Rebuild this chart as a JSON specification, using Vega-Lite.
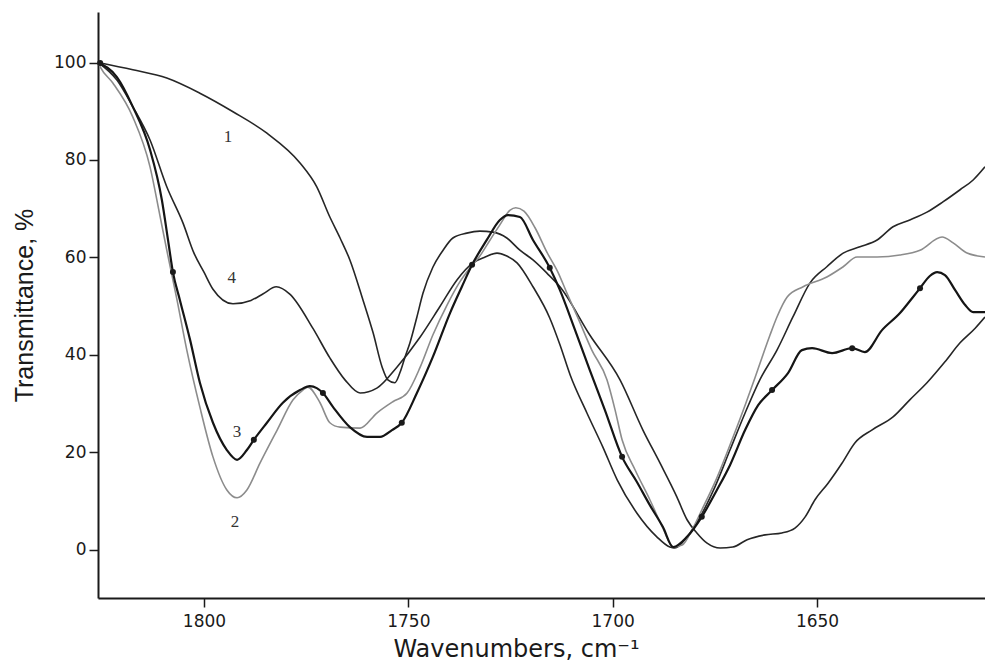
{
  "$schema": "https://vega.github.io/schema/vega-lite/v6.json",
  "width": 887,
  "height": 586,
  "autosize": {"type": "none"},
  "padding": {"left": 98, "top": 12, "right": 0, "bottom": 66},
  "background": "white",
  "config": {
    "view": {"stroke": null},
    "axis": {
      "grid": false,
      "domainColor": "#1a1a1a",
      "domainWidth": 2,
      "tickColor": "#1a1a1a",
      "tickWidth": 1.5,
      "tickSize": 9,
      "labelFont": "DejaVu Sans",
      "labelFontSize": 17,
      "labelColor": "#1a1a1a",
      "titleColor": "#1a1a1a",
      "titleFontWeight": "normal"
    }
  },
  "datasets": {
    "spectra": [
      {"curve": "1", "wavenumber": 1825.9, "transmittance": 100},
      {"curve": "1", "wavenumber": 1817.4, "transmittance": 98.5},
      {"curve": "1", "wavenumber": 1809.1, "transmittance": 96.8},
      {"curve": "1", "wavenumber": 1801.0, "transmittance": 93.7},
      {"curve": "1", "wavenumber": 1792.9, "transmittance": 89.9},
      {"curve": "1", "wavenumber": 1784.6, "transmittance": 85.5},
      {"curve": "1", "wavenumber": 1776.5, "transmittance": 79.4},
      {"curve": "1", "wavenumber": 1772.4, "transmittance": 74.5},
      {"curve": "1", "wavenumber": 1769.2, "transmittance": 68.3},
      {"curve": "1", "wavenumber": 1766.7, "transmittance": 64.0},
      {"curve": "1", "wavenumber": 1764.3, "transmittance": 59.5},
      {"curve": "1", "wavenumber": 1761.1, "transmittance": 51.3},
      {"curve": "1", "wavenumber": 1758.6, "transmittance": 44.5},
      {"curve": "1", "wavenumber": 1756.4, "transmittance": 37.5},
      {"curve": "1", "wavenumber": 1755.0, "transmittance": 34.9},
      {"curve": "1", "wavenumber": 1753.3, "transmittance": 34.3},
      {"curve": "1", "wavenumber": 1752.0, "transmittance": 36.5},
      {"curve": "1", "wavenumber": 1750.8, "transmittance": 39.6},
      {"curve": "1", "wavenumber": 1749.6, "transmittance": 42.5},
      {"curve": "1", "wavenumber": 1747.9, "transmittance": 47.8},
      {"curve": "1", "wavenumber": 1746.4, "transmittance": 52.7},
      {"curve": "1", "wavenumber": 1744.0, "transmittance": 58.0},
      {"curve": "1", "wavenumber": 1741.5, "transmittance": 61.5},
      {"curve": "1", "wavenumber": 1739.1, "transmittance": 64.0},
      {"curve": "1", "wavenumber": 1735.7, "transmittance": 65.0},
      {"curve": "1", "wavenumber": 1732.5, "transmittance": 65.4},
      {"curve": "1", "wavenumber": 1729.3, "transmittance": 65.2},
      {"curve": "1", "wavenumber": 1725.9, "transmittance": 64.0},
      {"curve": "1", "wavenumber": 1722.7, "transmittance": 61.5},
      {"curve": "1", "wavenumber": 1719.5, "transmittance": 59.5},
      {"curve": "1", "wavenumber": 1716.1, "transmittance": 56.8},
      {"curve": "1", "wavenumber": 1712.9, "transmittance": 54.0},
      {"curve": "1", "wavenumber": 1705.6, "transmittance": 44.1},
      {"curve": "1", "wavenumber": 1698.2, "transmittance": 34.9},
      {"curve": "1", "wavenumber": 1692.6, "transmittance": 24.6},
      {"curve": "1", "wavenumber": 1688.4, "transmittance": 17.8},
      {"curve": "1", "wavenumber": 1684.3, "transmittance": 10.9},
      {"curve": "1", "wavenumber": 1681.8, "transmittance": 6.2},
      {"curve": "1", "wavenumber": 1679.4, "transmittance": 3.5},
      {"curve": "1", "wavenumber": 1676.9, "transmittance": 1.4},
      {"curve": "1", "wavenumber": 1673.7, "transmittance": 0.4},
      {"curve": "1", "wavenumber": 1670.6, "transmittance": 0.6},
      {"curve": "1", "wavenumber": 1667.1, "transmittance": 2.1},
      {"curve": "1", "wavenumber": 1662.7, "transmittance": 3.1},
      {"curve": "1", "wavenumber": 1658.6, "transmittance": 3.5},
      {"curve": "1", "wavenumber": 1655.4, "transmittance": 4.5},
      {"curve": "1", "wavenumber": 1652.9, "transmittance": 6.8},
      {"curve": "1", "wavenumber": 1650.5, "transmittance": 10.3},
      {"curve": "1", "wavenumber": 1647.3, "transmittance": 13.7},
      {"curve": "1", "wavenumber": 1643.9, "transmittance": 17.8},
      {"curve": "1", "wavenumber": 1640.7, "transmittance": 22.0},
      {"curve": "1", "wavenumber": 1636.6, "transmittance": 24.6},
      {"curve": "1", "wavenumber": 1631.4, "transmittance": 27.3},
      {"curve": "1", "wavenumber": 1627.3, "transmittance": 30.8},
      {"curve": "1", "wavenumber": 1623.1, "transmittance": 34.3},
      {"curve": "1", "wavenumber": 1618.7, "transmittance": 38.6},
      {"curve": "1", "wavenumber": 1615.0, "transmittance": 42.5},
      {"curve": "1", "wavenumber": 1611.3, "transmittance": 45.5},
      {"curve": "1", "wavenumber": 1608.9, "transmittance": 47.8},

      {"curve": "2", "wavenumber": 1825.9, "transmittance": 100},
      {"curve": "2", "wavenumber": 1825.4, "transmittance": 99.1},
      {"curve": "2", "wavenumber": 1822.3, "transmittance": 95.8},
      {"curve": "2", "wavenumber": 1817.4, "transmittance": 88.8},
      {"curve": "2", "wavenumber": 1813.2, "transmittance": 78.6},
      {"curve": "2", "wavenumber": 1810.8, "transmittance": 68.7},
      {"curve": "2", "wavenumber": 1809.1, "transmittance": 61.5},
      {"curve": "2", "wavenumber": 1806.6, "transmittance": 51.3},
      {"curve": "2", "wavenumber": 1804.2, "transmittance": 41.0},
      {"curve": "2", "wavenumber": 1801.0, "transmittance": 29.3},
      {"curve": "2", "wavenumber": 1797.8, "transmittance": 19.1},
      {"curve": "2", "wavenumber": 1794.4, "transmittance": 12.3},
      {"curve": "2", "wavenumber": 1791.9, "transmittance": 10.7},
      {"curve": "2", "wavenumber": 1789.5, "transmittance": 12.3},
      {"curve": "2", "wavenumber": 1786.3, "transmittance": 17.8},
      {"curve": "2", "wavenumber": 1782.1, "transmittance": 24.6},
      {"curve": "2", "wavenumber": 1778.2, "transmittance": 30.8},
      {"curve": "2", "wavenumber": 1775.8, "transmittance": 32.8},
      {"curve": "2", "wavenumber": 1774.6, "transmittance": 33.4},
      {"curve": "2", "wavenumber": 1771.6, "transmittance": 30.2},
      {"curve": "2", "wavenumber": 1769.2, "transmittance": 26.1},
      {"curve": "2", "wavenumber": 1766.7, "transmittance": 25.2},
      {"curve": "2", "wavenumber": 1761.8, "transmittance": 25.0},
      {"curve": "2", "wavenumber": 1757.7, "transmittance": 28.1},
      {"curve": "2", "wavenumber": 1753.8, "transmittance": 30.4},
      {"curve": "2", "wavenumber": 1750.3, "transmittance": 32.2},
      {"curve": "2", "wavenumber": 1747.1, "transmittance": 37.5},
      {"curve": "2", "wavenumber": 1744.0, "transmittance": 44.1},
      {"curve": "2", "wavenumber": 1740.5, "transmittance": 50.3},
      {"curve": "2", "wavenumber": 1737.4, "transmittance": 55.0},
      {"curve": "2", "wavenumber": 1734.9, "transmittance": 57.9},
      {"curve": "2", "wavenumber": 1732.5, "transmittance": 60.3},
      {"curve": "2", "wavenumber": 1730.0, "transmittance": 63.6},
      {"curve": "2", "wavenumber": 1727.6, "transmittance": 66.7},
      {"curve": "2", "wavenumber": 1725.1, "transmittance": 69.7},
      {"curve": "2", "wavenumber": 1723.7, "transmittance": 70.2},
      {"curve": "2", "wavenumber": 1721.7, "transmittance": 69.5},
      {"curve": "2", "wavenumber": 1719.0, "transmittance": 66.1},
      {"curve": "2", "wavenumber": 1716.1, "transmittance": 61.1},
      {"curve": "2", "wavenumber": 1713.4, "transmittance": 57.0},
      {"curve": "2", "wavenumber": 1711.2, "transmittance": 52.7},
      {"curve": "2", "wavenumber": 1708.5, "transmittance": 47.6},
      {"curve": "2", "wavenumber": 1705.1, "transmittance": 41.0},
      {"curve": "2", "wavenumber": 1701.4, "transmittance": 34.9},
      {"curve": "2", "wavenumber": 1699.4, "transmittance": 28.7},
      {"curve": "2", "wavenumber": 1697.7, "transmittance": 22.6},
      {"curve": "2", "wavenumber": 1694.5, "transmittance": 16.4},
      {"curve": "2", "wavenumber": 1690.9, "transmittance": 10.3},
      {"curve": "2", "wavenumber": 1687.7, "transmittance": 4.5},
      {"curve": "2", "wavenumber": 1685.2, "transmittance": 0.6},
      {"curve": "2", "wavenumber": 1683.0, "transmittance": 1.0},
      {"curve": "2", "wavenumber": 1680.6, "transmittance": 4.1},
      {"curve": "2", "wavenumber": 1678.2, "transmittance": 8.2},
      {"curve": "2", "wavenumber": 1674.5, "transmittance": 14.8},
      {"curve": "2", "wavenumber": 1670.8, "transmittance": 22.6},
      {"curve": "2", "wavenumber": 1667.6, "transmittance": 29.7},
      {"curve": "2", "wavenumber": 1665.2, "transmittance": 35.3},
      {"curve": "2", "wavenumber": 1663.5, "transmittance": 39.4},
      {"curve": "2", "wavenumber": 1661.5, "transmittance": 44.1},
      {"curve": "2", "wavenumber": 1659.8, "transmittance": 47.8},
      {"curve": "2", "wavenumber": 1657.3, "transmittance": 51.9},
      {"curve": "2", "wavenumber": 1653.4, "transmittance": 54.0},
      {"curve": "2", "wavenumber": 1647.6, "transmittance": 56.0},
      {"curve": "2", "wavenumber": 1643.6, "transmittance": 58.1},
      {"curve": "2", "wavenumber": 1640.2, "transmittance": 60.1},
      {"curve": "2", "wavenumber": 1635.3, "transmittance": 60.1},
      {"curve": "2", "wavenumber": 1629.7, "transmittance": 60.5},
      {"curve": "2", "wavenumber": 1624.8, "transmittance": 61.5},
      {"curve": "2", "wavenumber": 1619.4, "transmittance": 64.2},
      {"curve": "2", "wavenumber": 1616.7, "transmittance": 63.0},
      {"curve": "2", "wavenumber": 1613.3, "transmittance": 60.9},
      {"curve": "2", "wavenumber": 1608.9, "transmittance": 60.1},

      {"curve": "3", "wavenumber": 1825.9, "transmittance": 100},
      {"curve": "3", "wavenumber": 1821.3, "transmittance": 97.0},
      {"curve": "3", "wavenumber": 1817.4, "transmittance": 90.9},
      {"curve": "3", "wavenumber": 1813.2, "transmittance": 82.1},
      {"curve": "3", "wavenumber": 1810.3, "transmittance": 71.8},
      {"curve": "3", "wavenumber": 1808.8, "transmittance": 63.6},
      {"curve": "3", "wavenumber": 1807.6, "transmittance": 57.0},
      {"curve": "3", "wavenumber": 1805.9, "transmittance": 51.3},
      {"curve": "3", "wavenumber": 1803.4, "transmittance": 43.1},
      {"curve": "3", "wavenumber": 1801.0, "transmittance": 34.3},
      {"curve": "3", "wavenumber": 1797.8, "transmittance": 26.1},
      {"curve": "3", "wavenumber": 1794.4, "transmittance": 20.5},
      {"curve": "3", "wavenumber": 1791.9, "transmittance": 18.5},
      {"curve": "3", "wavenumber": 1789.5, "transmittance": 20.5},
      {"curve": "3", "wavenumber": 1787.8, "transmittance": 22.6},
      {"curve": "3", "wavenumber": 1784.6, "transmittance": 26.1},
      {"curve": "3", "wavenumber": 1780.7, "transmittance": 30.2},
      {"curve": "3", "wavenumber": 1776.5, "transmittance": 32.8},
      {"curve": "3", "wavenumber": 1774.1, "transmittance": 33.6},
      {"curve": "3", "wavenumber": 1772.4, "transmittance": 33.2},
      {"curve": "3", "wavenumber": 1770.9, "transmittance": 32.2},
      {"curve": "3", "wavenumber": 1768.4, "transmittance": 29.3},
      {"curve": "3", "wavenumber": 1764.3, "transmittance": 25.2},
      {"curve": "3", "wavenumber": 1760.1, "transmittance": 23.2},
      {"curve": "3", "wavenumber": 1756.9, "transmittance": 23.2},
      {"curve": "3", "wavenumber": 1754.0, "transmittance": 24.6},
      {"curve": "3", "wavenumber": 1751.6, "transmittance": 26.1},
      {"curve": "3", "wavenumber": 1747.9, "transmittance": 32.2},
      {"curve": "3", "wavenumber": 1744.0, "transmittance": 39.6},
      {"curve": "3", "wavenumber": 1739.8, "transmittance": 48.6},
      {"curve": "3", "wavenumber": 1736.9, "transmittance": 54.0},
      {"curve": "3", "wavenumber": 1734.4, "transmittance": 58.5},
      {"curve": "3", "wavenumber": 1730.8, "transmittance": 63.6},
      {"curve": "3", "wavenumber": 1727.6, "transmittance": 67.7},
      {"curve": "3", "wavenumber": 1725.6, "transmittance": 68.7},
      {"curve": "3", "wavenumber": 1722.7, "transmittance": 68.3},
      {"curve": "3", "wavenumber": 1719.5, "transmittance": 63.6},
      {"curve": "3", "wavenumber": 1715.4, "transmittance": 57.9},
      {"curve": "3", "wavenumber": 1712.9, "transmittance": 53.3},
      {"curve": "3", "wavenumber": 1709.2, "transmittance": 45.1},
      {"curve": "3", "wavenumber": 1705.6, "transmittance": 36.9},
      {"curve": "3", "wavenumber": 1701.9, "transmittance": 28.7},
      {"curve": "3", "wavenumber": 1697.7, "transmittance": 19.1},
      {"curve": "3", "wavenumber": 1694.1, "transmittance": 14.0},
      {"curve": "3", "wavenumber": 1690.9, "transmittance": 9.2},
      {"curve": "3", "wavenumber": 1687.7, "transmittance": 4.7},
      {"curve": "3", "wavenumber": 1685.2, "transmittance": 0.6},
      {"curve": "3", "wavenumber": 1681.8, "transmittance": 2.7},
      {"curve": "3", "wavenumber": 1678.2, "transmittance": 6.8},
      {"curve": "3", "wavenumber": 1674.5, "transmittance": 12.3},
      {"curve": "3", "wavenumber": 1671.3, "transmittance": 17.4},
      {"curve": "3", "wavenumber": 1667.6, "transmittance": 24.6},
      {"curve": "3", "wavenumber": 1664.4, "transmittance": 29.7},
      {"curve": "3", "wavenumber": 1661.0, "transmittance": 32.8},
      {"curve": "3", "wavenumber": 1657.1, "transmittance": 36.3},
      {"curve": "3", "wavenumber": 1653.7, "transmittance": 41.0},
      {"curve": "3", "wavenumber": 1651.2, "transmittance": 41.4},
      {"curve": "3", "wavenumber": 1646.3, "transmittance": 40.4},
      {"curve": "3", "wavenumber": 1641.4, "transmittance": 41.4},
      {"curve": "3", "wavenumber": 1638.3, "transmittance": 40.6},
      {"curve": "3", "wavenumber": 1634.1, "transmittance": 45.1},
      {"curve": "3", "wavenumber": 1629.7, "transmittance": 48.6},
      {"curve": "3", "wavenumber": 1626.5, "transmittance": 51.9},
      {"curve": "3", "wavenumber": 1624.8, "transmittance": 53.7},
      {"curve": "3", "wavenumber": 1622.4, "transmittance": 56.2},
      {"curve": "3", "wavenumber": 1620.6, "transmittance": 57.0},
      {"curve": "3", "wavenumber": 1618.7, "transmittance": 56.4},
      {"curve": "3", "wavenumber": 1616.2, "transmittance": 53.3},
      {"curve": "3", "wavenumber": 1613.8, "transmittance": 50.3},
      {"curve": "3", "wavenumber": 1611.8, "transmittance": 48.8},
      {"curve": "3", "wavenumber": 1608.9, "transmittance": 48.8},

      {"curve": "4", "wavenumber": 1825.9, "transmittance": 100},
      {"curve": "4", "wavenumber": 1821.3, "transmittance": 96.4},
      {"curve": "4", "wavenumber": 1817.4, "transmittance": 90.9},
      {"curve": "4", "wavenumber": 1813.2, "transmittance": 84.1},
      {"curve": "4", "wavenumber": 1809.1, "transmittance": 74.5},
      {"curve": "4", "wavenumber": 1805.1, "transmittance": 67.0},
      {"curve": "4", "wavenumber": 1802.5, "transmittance": 61.0},
      {"curve": "4", "wavenumber": 1800.0, "transmittance": 57.0},
      {"curve": "4", "wavenumber": 1797.8, "transmittance": 53.5},
      {"curve": "4", "wavenumber": 1792.9, "transmittance": 50.5},
      {"curve": "4", "wavenumber": 1788.5, "transmittance": 51.2},
      {"curve": "4", "wavenumber": 1785.6, "transmittance": 52.5},
      {"curve": "4", "wavenumber": 1782.3, "transmittance": 54.0},
      {"curve": "4", "wavenumber": 1779.0, "transmittance": 52.5},
      {"curve": "4", "wavenumber": 1773.3, "transmittance": 45.4},
      {"curve": "4", "wavenumber": 1769.2, "transmittance": 39.4},
      {"curve": "4", "wavenumber": 1765.5, "transmittance": 34.9},
      {"curve": "4", "wavenumber": 1761.8, "transmittance": 32.2},
      {"curve": "4", "wavenumber": 1757.7, "transmittance": 33.2},
      {"curve": "4", "wavenumber": 1752.8, "transmittance": 37.5},
      {"curve": "4", "wavenumber": 1747.1, "transmittance": 43.7},
      {"curve": "4", "wavenumber": 1742.3, "transmittance": 49.9},
      {"curve": "4", "wavenumber": 1738.1, "transmittance": 55.4},
      {"curve": "4", "wavenumber": 1734.2, "transmittance": 58.9},
      {"curve": "4", "wavenumber": 1731.2, "transmittance": 60.1},
      {"curve": "4", "wavenumber": 1728.3, "transmittance": 60.9},
      {"curve": "4", "wavenumber": 1725.9, "transmittance": 60.3},
      {"curve": "4", "wavenumber": 1723.4, "transmittance": 58.9},
      {"curve": "4", "wavenumber": 1719.5, "transmittance": 54.0},
      {"curve": "4", "wavenumber": 1715.4, "transmittance": 47.6},
      {"curve": "4", "wavenumber": 1712.9, "transmittance": 42.1},
      {"curve": "4", "wavenumber": 1710.4, "transmittance": 35.9},
      {"curve": "4", "wavenumber": 1706.3, "transmittance": 28.1},
      {"curve": "4", "wavenumber": 1702.4, "transmittance": 21.1},
      {"curve": "4", "wavenumber": 1698.9, "transmittance": 14.4},
      {"curve": "4", "wavenumber": 1694.1, "transmittance": 7.6},
      {"curve": "4", "wavenumber": 1689.2, "transmittance": 2.7},
      {"curve": "4", "wavenumber": 1686.0, "transmittance": 0.6},
      {"curve": "4", "wavenumber": 1684.8, "transmittance": 0.4},
      {"curve": "4", "wavenumber": 1681.8, "transmittance": 2.7},
      {"curve": "4", "wavenumber": 1678.6, "transmittance": 6.8},
      {"curve": "4", "wavenumber": 1675.0, "transmittance": 12.9},
      {"curve": "4", "wavenumber": 1671.3, "transmittance": 20.5},
      {"curve": "4", "wavenumber": 1667.6, "transmittance": 28.1},
      {"curve": "4", "wavenumber": 1664.0, "transmittance": 34.9},
      {"curve": "4", "wavenumber": 1659.8, "transmittance": 41.0},
      {"curve": "4", "wavenumber": 1655.9, "transmittance": 47.8},
      {"curve": "4", "wavenumber": 1651.7, "transmittance": 54.8},
      {"curve": "4", "wavenumber": 1647.6, "transmittance": 58.1},
      {"curve": "4", "wavenumber": 1643.6, "transmittance": 60.9},
      {"curve": "4", "wavenumber": 1639.5, "transmittance": 62.2},
      {"curve": "4", "wavenumber": 1635.3, "transmittance": 63.6},
      {"curve": "4", "wavenumber": 1631.4, "transmittance": 66.3},
      {"curve": "4", "wavenumber": 1627.3, "transmittance": 67.7},
      {"curve": "4", "wavenumber": 1623.1, "transmittance": 69.3},
      {"curve": "4", "wavenumber": 1619.2, "transmittance": 71.4},
      {"curve": "4", "wavenumber": 1615.0, "transmittance": 73.9},
      {"curve": "4", "wavenumber": 1611.8, "transmittance": 75.9},
      {"curve": "4", "wavenumber": 1608.9, "transmittance": 78.6}
    ],
    "markers": [
      {"wavenumber": 1825.4, "transmittance": 99.9},
      {"wavenumber": 1807.6, "transmittance": 57.0},
      {"wavenumber": 1787.8, "transmittance": 22.6},
      {"wavenumber": 1770.9, "transmittance": 32.2},
      {"wavenumber": 1751.6, "transmittance": 26.1},
      {"wavenumber": 1734.4, "transmittance": 58.5},
      {"wavenumber": 1715.4, "transmittance": 57.9},
      {"wavenumber": 1697.7, "transmittance": 19.1},
      {"wavenumber": 1678.2, "transmittance": 6.8},
      {"wavenumber": 1661.0, "transmittance": 32.8},
      {"wavenumber": 1641.4, "transmittance": 41.4},
      {"wavenumber": 1624.8, "transmittance": 53.7}
    ],
    "labels": [
      {"label": "1", "wavenumber": 1794.1, "transmittance": 84.7},
      {"label": "4", "wavenumber": 1793.2, "transmittance": 55.8},
      {"label": "3", "wavenumber": 1791.9, "transmittance": 24.2},
      {"label": "2", "wavenumber": 1792.4, "transmittance": 5.7}
    ]
  },
  "layer": [
    {
      "mark": {"type": "rule", "color": "#1a1a1a", "strokeWidth": 2},
      "encoding": {"y": {"datum": 110.36}}
    },
    {
      "data": {"name": "spectra"},
      "transform": [{"filter": "datum.curve === '1' || datum.curve === '4'"}],
      "mark": {"type": "line", "interpolate": "monotone", "color": "#262626", "strokeWidth": 1.6},
      "encoding": {
        "x": {
          "field": "wavenumber",
          "type": "quantitative",
          "scale": {"domain": [1608.9, 1825.93], "reverse": true, "nice": false, "zero": false},
          "axis": {
            "title": "Wavenumbers, cm⁻¹",
            "values": [1650, 1700, 1750, 1800],
            "format": "d",
            "labelPadding": 6,
            "titleFont": "DejaVu Sans",
            "titleFontSize": 24,
            "titleX": 418,
            "titleY": 58,
            "titleBaseline": "alphabetic"
          }
        },
        "y": {
          "field": "transmittance",
          "type": "quantitative",
          "scale": {"domain": [-9.85, 110.36], "nice": false, "zero": false},
          "axis": {
            "title": "Transmittance, %",
            "values": [0, 20, 40, 60, 80, 100],
            "labelPadding": 3,
            "titleFont": "Liberation Sans",
            "titleFontSize": 25,
            "titleX": -66,
            "titleY": 293,
            "titleBaseline": "alphabetic"
          }
        },
        "detail": {"field": "curve"},
        "order": {"field": "wavenumber", "sort": "descending"}
      }
    },
    {
      "data": {"name": "spectra"},
      "transform": [{"filter": "datum.curve === '2'"}],
      "mark": {"type": "line", "interpolate": "monotone", "color": "#8c8c8c", "strokeWidth": 1.6},
      "encoding": {
        "x": {"field": "wavenumber", "type": "quantitative"},
        "y": {"field": "transmittance", "type": "quantitative"},
        "order": {"field": "wavenumber", "sort": "descending"}
      }
    },
    {
      "data": {"name": "spectra"},
      "transform": [{"filter": "datum.curve === '3'"}],
      "mark": {"type": "line", "interpolate": "monotone", "color": "#151515", "strokeWidth": 2.2},
      "encoding": {
        "x": {"field": "wavenumber", "type": "quantitative"},
        "y": {"field": "transmittance", "type": "quantitative"},
        "order": {"field": "wavenumber", "sort": "descending"}
      }
    },
    {
      "data": {"name": "markers"},
      "mark": {"type": "circle", "color": "#1a1a1a", "opacity": 1, "size": 36},
      "encoding": {
        "x": {"field": "wavenumber", "type": "quantitative"},
        "y": {"field": "transmittance", "type": "quantitative"}
      }
    },
    {
      "data": {"name": "labels"},
      "mark": {"type": "text", "font": "Liberation Serif", "fontSize": 17, "color": "#333333", "align": "center", "baseline": "middle"},
      "encoding": {
        "x": {"field": "wavenumber", "type": "quantitative"},
        "y": {"field": "transmittance", "type": "quantitative"},
        "text": {"field": "label"}
      }
    }
  ]
}
